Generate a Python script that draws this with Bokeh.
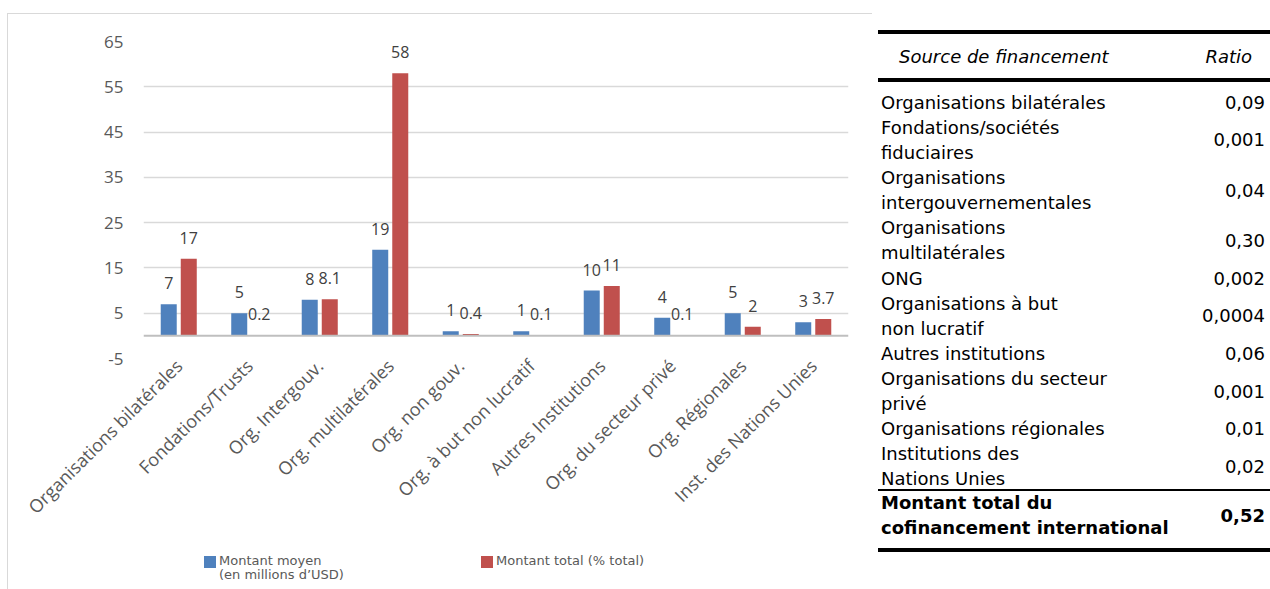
import math

from bokeh.core.properties import value
from bokeh.embed import file_html
from bokeh.layouts import column, row
from bokeh.models import ColumnDataSource, Div, FactorRange, FixedTicker, Range1d, Span
from bokeh.plotting import figure
from bokeh.resources import INLINE
from bokeh.transform import dodge

# ---- chart data -------------------------------------------------------------
categories = [
    "Organisations bilatérales",
    "Fondations/Trusts",
    "Org. Intergouv.",
    "Org. multilatérales",
    "Org. non gouv.",
    "Org. à but non lucratif",
    "Autres Institutions",
    "Org. du secteur privé",
    "Org. Régionales",
    "Inst. des Nations Unies",
]
montant_moyen = [7, 5, 8, 19, 1, 1, 10, 4, 5, 3]
montant_total = [17, 0.2, 8.1, 58, 0.4, 0.1, 11, 0.1, 2, 3.7]
y_ticks = [-5, 5, 15, 25, 35, 45, 55, 65]

legend_moyen = ["Montant moyen", "(en millions d’USD)"]
legend_total = "Montant total (% total)"

# ---- table data -------------------------------------------------------------
table_header = ["Source de financement", "Ratio"]
table_sources = [
    "Organisations bilatérales",
    "Fondations/sociétés\nfiduciaires",
    "Organisations\nintergouvernementales",
    "Organisations\nmultilatérales",
    "ONG",
    "Organisations à but\nnon lucratif",
    "Autres institutions",
    "Organisations du secteur\nprivé",
    "Organisations régionales",
    "Institutions des\nNations Unies",
]
table_ratios = ["0,09", "0,001", "0,04", "0,30", "0,002", "0,0004", "0,06",
                "0,001", "0,01", "0,02"]
table_total_label = "Montant total du\ncofinancement international"
table_total_ratio = "0,52"

BLUE = "#4f81bd"
RED = "#c0504d"
GREY_TXT = "#595959"
BOX_LINE = "#d9d9d9"
CHART_FONT = "Open Sans"
TABLE_FONT = "DejaVu Sans"
NO_MARGIN = (0, 0, 0, 0)

# ---- bar chart --------------------------------------------------------------
p = figure(
    x_range=FactorRange(*categories),
    y_range=Range1d(-5, 65),
    width=866, height=536,
    output_backend="svg", toolbar_location=None,
    min_border_left=135, min_border_right=26,
    min_border_top=27, min_border_bottom=192,
    margin=NO_MARGIN,
)
p.outline_line_color = None
p.background_fill_color = "white"
p.border_fill_color = "white"

p.xgrid.visible = False
p.ygrid.ticker = FixedTicker(ticks=y_ticks)
p.ygrid.grid_line_color = BOX_LINE
p.ygrid.grid_line_width = 1.3

p.yaxis.ticker = FixedTicker(ticks=y_ticks)
p.yaxis.major_label_overrides = {t: str(t) for t in y_ticks}
p.yaxis.axis_line_color = None
p.yaxis.major_tick_line_color = None
p.yaxis.minor_tick_line_color = None
p.yaxis.major_label_standoff = 14
p.yaxis.major_label_text_font = CHART_FONT
p.yaxis.major_label_text_font_size = "17px"
p.yaxis.major_label_text_color = GREY_TXT

p.xaxis.axis_line_color = None
p.xaxis.major_tick_line_color = None
p.xaxis.minor_tick_line_color = None
p.xaxis.major_label_orientation = math.pi / 4
p.xaxis.major_label_standoff = -2
p.xaxis.major_label_text_font = CHART_FONT
p.xaxis.major_label_text_font_size = "18px"
p.xaxis.major_label_text_color = GREY_TXT

# category axis line at zero
p.add_layout(Span(location=0, dimension="width", line_color="#bfbfbf", line_width=2))

src = ColumnDataSource(dict(
    cat=categories,
    moyen=montant_moyen,
    total=montant_total,
    moyen_lbl=[f"{v:g}" for v in montant_moyen],
    total_lbl=[f"{v:g}" for v in montant_total],
))

bar_w = 0.227
off = 0.142
p.vbar(x=dodge("cat", -off, range=p.x_range), top="moyen", bottom=0,
       width=bar_w, source=src, fill_color=BLUE, line_color=None)
p.vbar(x=dodge("cat", off, range=p.x_range), top="total", bottom=0,
       width=bar_w, source=src, fill_color=RED, line_color=None)

for col, lbl, dx in (("moyen", "moyen_lbl", -off), ("total", "total_lbl", off)):
    p.text(x=dodge("cat", dx, range=p.x_range), y=col, text=lbl, source=src,
           text_align="center", text_baseline="middle", y_offset=-21,
           text_font=value(CHART_FONT), text_font_size="16px", text_color="#404040")


def box(left, top, width, height, color):
    return (f'<div style="position:absolute;left:{left}px;top:{top}px;'
            f'width:{width}px;height:{height}px;background:{color}"></div>')


def txt(top, content, left=None, right=None, extra=""):
    pos = f"left:{left}px;" if left is not None else f"right:{right}px;"
    return (f'<div style="position:absolute;top:{top:.1f}px;{pos}'
            f'white-space:nowrap;{extra}">{content}</div>')


# chart box: left and top border lines
left_strip = Div(width=8, height=589, margin=NO_MARGIN, text=(
    '<div style="position:relative;width:8px;height:589px">'
    + box(7, 13, 1, 576, BOX_LINE) + '</div>'))
top_strip = Div(width=866, height=14, margin=NO_MARGIN, text=(
    '<div style="position:relative;width:866px;height:14px">'
    + box(0, 13, 864, 1, BOX_LINE) + '</div>'))

# legend under the chart
leg_font = (f"font-family:'{TABLE_FONT}';font-size:13px;line-height:14px;"
            f"color:{GREY_TXT}")
legend_html = (
    f'<div style="position:relative;width:866px;height:39px;{leg_font}">'
    + box(196, 6, 12, 12, BLUE)
    + txt(3.5, "<br>".join(legend_moyen), left=211)
    + box(473, 6, 12, 12, RED)
    + txt(3.5, legend_total, left=488)
    + '</div>'
)
legend_div = Div(width=866, height=39, margin=NO_MARGIN, text=legend_html)

# ---- table ------------------------------------------------------------------
LH = 25.1            # line pitch
ASC = 18.7           # baseline offset inside a 25px line box at 18px
first_base = 108.5
x_left, x_head = 7, 25
r_val, r_head = 5, 18

parts = [
    box(4, 30, 392, 4, "black"),
    txt(63 - ASC, table_header[0], left=x_head, extra="font-style:italic"),
    txt(63 - ASC, table_header[1], right=r_head, extra="font-style:italic"),
    box(4, 78, 392, 4, "black"),
]
k = 0
for name, ratio in zip(table_sources, table_ratios):
    bases = []
    for ln in name.split("\n"):
        b = first_base + k * LH
        parts.append(txt(b - ASC, ln, left=x_left))
        bases.append(b)
        k += 1
    parts.append(txt(sum(bases) / len(bases) - ASC, ratio, right=r_val))

last_base = first_base + (k - 1) * LH
rule_top = last_base + 4
parts.append(box(4, rule_top, 392, 2, "black"))
tot_bases = []
for i, ln in enumerate(table_total_label.split("\n")):
    b = rule_top + 20 + i * LH
    parts.append(txt(b - ASC, ln, left=x_left, extra="font-weight:bold"))
    tot_bases.append(b)
parts.append(txt(sum(tot_bases) / len(tot_bases) - ASC, table_total_ratio,
                 right=r_val, extra="font-weight:bold"))
parts.append(box(4, tot_bases[-1] + 14, 392, 4, "black"))

table_html = (
    f'<div style="position:relative;width:396px;height:589px;'
    f"font-family:'{TABLE_FONT}';font-size:18px;line-height:25px;color:black\">"
    + "".join(parts) + '</div>'
)
table_div = Div(width=396, height=589, margin=NO_MARGIN, text=table_html)

layout = row(left_strip, column(top_strip, p, legend_div, margin=NO_MARGIN),
             table_div, margin=NO_MARGIN)
open("out.html", "w").write(file_html(layout, INLINE))
